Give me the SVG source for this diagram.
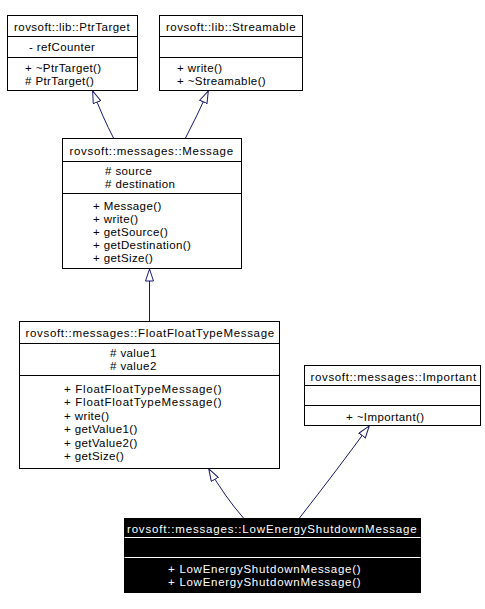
<svg xmlns="http://www.w3.org/2000/svg" width="485" height="609" viewBox="0 0 485 609">
<defs>
<style>
text{font-family:"Liberation Sans",Arial,sans-serif;font-size:11.5px;letter-spacing:0.4px;fill:#000}
.box{fill:#fff;stroke:#000;stroke-width:1}
.sep{stroke:#000;stroke-width:1}
.t{text-anchor:middle}
.dark rect{fill:#000;stroke:#000}
.dark line{stroke:#fff}
.dark text{fill:#fff}
.edge{fill:none;stroke:#191970;stroke-width:1;marker-end:url(#tri)}
</style>
<marker id="tri" markerUnits="userSpaceOnUse" viewBox="0 0 13 9" refX="13" refY="4.5" markerWidth="13" markerHeight="9" orient="auto">
<path d="M0.5,0.5 L12.5,4.5 L0.5,8.5 Z" fill="#fff" stroke="#191970" stroke-width="1"/>
</marker>
</defs>
<rect width="485" height="609" fill="#fff"/>
<g id="connectors">
<path class="edge" d="M113.5,138 Q103,118 92.5,90.5"/>
<path class="edge" d="M185.5,138 Q197,116 208.5,90.5"/>
<path class="edge" d="M149.5,321 L149.5,268.5"/>
<path class="edge" d="M243.5,518 Q225,497 208.5,468.5"/>
<path class="edge" d="M299.5,518 Q337,470 369.5,425.5"/>
</g>
<g id="PtrTarget">
<rect class="box" x="7.5" y="15.5" width="130" height="75"/>
<line class="sep" x1="7.5" y1="36.5" x2="137.5" y2="36.5"/>
<line class="sep" x1="7.5" y1="57.5" x2="137.5" y2="57.5"/>
<text class="t" x="72" y="31" textLength="116">rovsoft::lib::PtrTarget</text>
<text x="29" y="51">- refCounter</text>
<text x="25" y="72">+ ~PtrTarget()</text>
<text x="25" y="85"># PtrTarget()</text>
</g>
<g id="Streamable">
<rect class="box" x="159.5" y="15.5" width="143" height="75"/>
<line class="sep" x1="159.5" y1="36.5" x2="302.5" y2="36.5"/>
<line class="sep" x1="159.5" y1="57.5" x2="302.5" y2="57.5"/>
<text class="t" x="231" y="31" textLength="130">rovsoft::lib::Streamable</text>
<text x="177" y="72">+ write()</text>
<text x="177" y="85">+ ~Streamable()</text>
</g>
<g id="Message">
<rect class="box" x="62.5" y="138.5" width="179" height="130"/>
<line class="sep" x1="62.5" y1="161.5" x2="241.5" y2="161.5"/>
<line class="sep" x1="62.5" y1="193.5" x2="241.5" y2="193.5"/>
<text class="t" x="151.5" y="155" textLength="164">rovsoft::messages::Message</text>
<text x="105" y="175"># source</text>
<text x="105" y="188"># destination</text>
<text x="93" y="210">+ Message()</text>
<text x="93" y="223">+ write()</text>
<text x="93" y="236">+ getSource()</text>
<text x="93" y="249">+ getDestination()</text>
<text x="93" y="262">+ getSize()</text>
</g>
<g id="FloatFloatTypeMessage">
<rect class="box" x="19.5" y="321.5" width="260" height="147"/>
<line class="sep" x1="19.5" y1="343.5" x2="279.5" y2="343.5"/>
<line class="sep" x1="19.5" y1="375.5" x2="279.5" y2="375.5"/>
<text class="t" x="150" y="337" textLength="249">rovsoft::messages::FloatFloatTypeMessage</text>
<text x="110" y="357"># value1</text>
<text x="110" y="370"># value2</text>
<text x="64" y="393" textLength="158">+ FloatFloatTypeMessage()</text>
<text x="64" y="406.4" textLength="158">+ FloatFloatTypeMessage()</text>
<text x="64" y="419.8">+ write()</text>
<text x="64" y="433.2">+ getValue1()</text>
<text x="64" y="446.6">+ getValue2()</text>
<text x="64" y="460">+ getSize()</text>
</g>
<g id="Important">
<rect class="box" x="304.5" y="365.5" width="176" height="60"/>
<line class="sep" x1="304.5" y1="385.5" x2="480.5" y2="385.5"/>
<line class="sep" x1="304.5" y1="405.5" x2="480.5" y2="405.5"/>
<text class="t" x="393.5" y="381" textLength="166">rovsoft::messages::Important</text>
<text x="346" y="421">+ ~Important()</text>
</g>
<g id="LowEnergyShutdownMessage" class="dark">
<rect x="124.5" y="518.5" width="296" height="74"/>
<line x1="124.5" y1="537.5" x2="420.5" y2="537.5"/>
<line x1="124.5" y1="557.5" x2="420.5" y2="557.5"/>
<text class="t" x="272" y="533" textLength="290">rovsoft::messages::LowEnergyShutdownMessage</text>
<text x="168" y="573" textLength="193">+ LowEnergyShutdownMessage()</text>
<text x="168" y="586" textLength="193">+ LowEnergyShutdownMessage()</text>
</g>
</svg>
